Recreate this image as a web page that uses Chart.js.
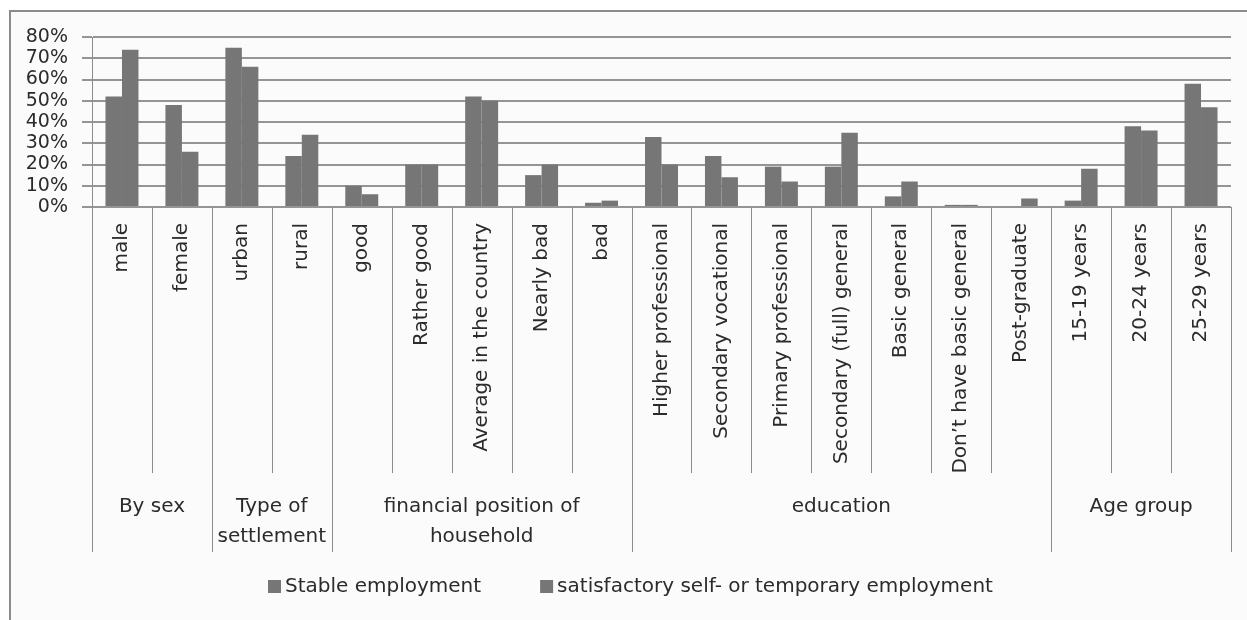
<!DOCTYPE html>
<html>
<head>
<meta charset="utf-8">
<script src="https://cdn.jsdelivr.net/npm/chart.js@4.4.0/dist/chart.umd.min.js"></script>
<style>
    html, body { margin: 0; padding: 0; background: #ffffff; }
    #wrap { width: 1247px; height: 620px; }
</style>
</head>
<body>
<div id="wrap"><canvas id="chart" width="1247" height="620"></canvas></div>
<script>
// categories (lower level of the axis)
const categories = [
    'male', 'female',
    'urban', 'rural',
    'good', 'Rather good', 'Average in the country', 'Nearly bad', 'bad',
    'Higher professional', 'Secondary vocational', 'Primary professional',
    'Secondary (full) general', 'Basic general', 'Don’t have basic general', 'Post-graduate',
    '15-19 years', '20-24 years', '25-29 years'
];

// groups (upper level of the axis)
const groupNames = [
    ['By sex'],
    ['Type of', 'settlement'],
    ['financial position of', 'household'],
    ['education'],
    ['Age group']
];
const groupSizes = [2, 2, 5, 7, 3];

const seriesNames = ['Stable employment', 'satisfactory self- or temporary employment'];

// values in %
const stableEmployment = [52, 48, 75, 24, 10, 20, 52, 15, 2, 33, 24, 19, 19, 5, 1, 0, 3, 38, 58];
const selfOrTemporary = [74, 26, 66, 34, 6, 20, 50, 20, 3, 20, 14, 12, 35, 12, 1, 4, 18, 36, 47];

const yMax = 80;
const yStep = 10;

const FONT = 'DejaVu Sans';
const TEXT_COLOR = '#2b2b2b';
const LINE_COLOR = '#8c8c8c';
const GRID_COLOR = '#959595';
const BAR_COLOR = '#767676';

// frame, category separators, group labels and legend
const excelLook = {
    id: 'excelLook',
    beforeDraw(chart) {
        const ctx = chart.ctx;
        ctx.save();
        ctx.fillStyle = '#ffffff';
        ctx.fillRect(0, 0, chart.width, chart.height);
        ctx.fillStyle = '#fbfbfb';
        ctx.fillRect(10, 11, chart.width - 10, chart.height - 11);
        ctx.strokeStyle = LINE_COLOR;
        ctx.lineWidth = 2;
        ctx.beginPath();
        ctx.moveTo(10, chart.height);
        ctx.lineTo(10, 11);
        ctx.lineTo(chart.width, 11);
        ctx.stroke();
        ctx.restore();
    },
    afterDraw(chart) {
        const ctx = chart.ctx;
        const x = chart.scales.x;
        const bottom = chart.chartArea.bottom;
        const step = x.getPixelForValue(1) - x.getPixelForValue(0);
        const edge = i => x.getPixelForValue(i) - step / 2;

        // indexes where a group starts / ends
        const groupEdges = [0];
        groupSizes.forEach(n => groupEdges.push(groupEdges[groupEdges.length - 1] + n));

        ctx.save();
        ctx.strokeStyle = LINE_COLOR;
        ctx.lineWidth = 1;
        for (let i = 0; i <= categories.length; i++) {
            const px = Math.round(edge(i)) + 0.5;
            const len = groupEdges.includes(i) ? 345 : 266;
            ctx.beginPath();
            ctx.moveTo(px, bottom);
            ctx.lineTo(px, bottom + len);
            ctx.stroke();
        }

        // group labels
        ctx.fillStyle = TEXT_COLOR;
        ctx.font = '20px "' + FONT + '"';
        ctx.textAlign = 'center';
        ctx.textBaseline = 'middle';
        groupNames.forEach((lines, g) => {
            const cx = (edge(groupEdges[g]) + edge(groupEdges[g + 1])) / 2;
            lines.forEach((line, k) => {
                ctx.fillText(line, cx, bottom + 300 + k * 30);
            });
        });

        // legend
        const ly = 587;
        let lx = 268;
        ctx.textAlign = 'left';
        seriesNames.forEach(name => {
            ctx.fillStyle = BAR_COLOR;
            ctx.fillRect(lx, ly - 7, 13, 13);
            ctx.fillStyle = TEXT_COLOR;
            ctx.fillText(name, lx + 17, ly);
            lx += 17 + ctx.measureText(name).width + 59;
        });
        ctx.restore();
    }
};

document.addEventListener('DOMContentLoaded', function () {
    const ctx = document.getElementById('chart').getContext('2d');
    new Chart(ctx, {
        type: 'bar',
        data: {
            labels: categories,
            datasets: [{
                label: seriesNames[0],
                data: stableEmployment,
                backgroundColor: BAR_COLOR,
                borderWidth: 0
            }, {
                label: seriesNames[1],
                data: selfOrTemporary,
                backgroundColor: BAR_COLOR,
                borderWidth: 0
            }]
        },
        options: {
            responsive: false,
            maintainAspectRatio: false,
            animation: false,
            devicePixelRatio: 1,
            layout: {
                padding: { left: 0, right: 16, top: 37, bottom: 0 }
            },
            datasets: {
                bar: {
                    categoryPercentage: 0.55,
                    barPercentage: 1.0
                }
            },
            scales: {
                y: {
                    min: 0,
                    max: yMax,
                    ticks: {
                        stepSize: yStep,
                        autoSkip: false,
                        padding: 14,
                        color: TEXT_COLOR,
                        font: { family: FONT, size: 19 },
                        callback: v => v + '%'
                    },
                    grid: {
                        color: GRID_COLOR,
                        lineWidth: 2,
                        drawTicks: true,
                        tickLength: 10
                    },
                    border: { display: true, color: LINE_COLOR },
                    afterFit(scale) { scale.width = 92; }
                },
                x: {
                    grid: { display: false, drawTicks: false },
                    border: { display: false },
                    ticks: {
                        autoSkip: false,
                        minRotation: 90,
                        maxRotation: 90,
                        padding: 16,
                        color: TEXT_COLOR,
                        font: { family: FONT, size: 20 }
                    },
                    afterFit(scale) { scale.height = 413; }
                }
            },
            plugins: {
                legend: { display: false },
                tooltip: { enabled: false }
            }
        },
        plugins: [excelLook]
    });
});
</script>
</body>
</html>
